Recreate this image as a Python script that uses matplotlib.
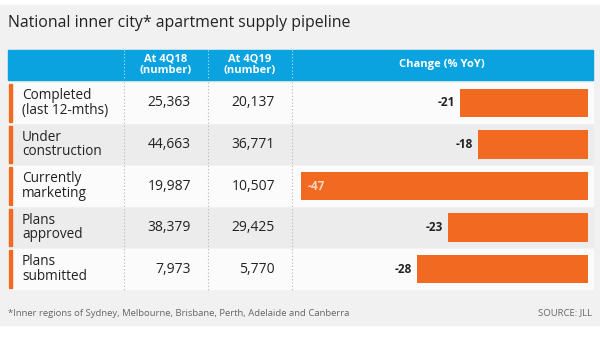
import matplotlib.pyplot as plt
from matplotlib.patches import Rectangle

plt.rcParams['font.family'] = ['Open Sans', 'DejaVu Sans']

title = "National inner city* apartment supply pipeline"
row_labels = ["Completed\n(last 12-mths)", "Under\nconstruction", "Currently\nmarketing",
              "Plans\napproved", "Plans\nsubmitted"]
col_headers = ["At 4Q18\n(number)", "At 4Q19\n(number)"]
at_4q18 = ["25,363", "44,663", "19,987", "38,379", "7,973"]
at_4q19 = ["20,137", "36,771", "10,507", "29,425", "5,770"]
change = [-21, -18, -47, -23, -28]
footnote = "*Inner regions of Sydney, Melbourne, Brisbane, Perth, Adelaide and Canberra"
source = "SOURCE: JLL"

blue = "#0aa3e0"
orange = "#f26a21"
W, H = 600, 338

fig = plt.figure(figsize=(6, 3.38), dpi=100)
bg = fig.add_axes([0, 0, 1, 1])
bg.set_xlim(0, W)
bg.set_ylim(H, 0)
bg.axis('off')

# panel
bg.add_patch(Rectangle((0, 5), W, 320, color="#f1f1f1", zorder=0))
bg.text(8, 23, title, fontsize=11.4, va='center', ha='left', color="#222222")

# header
bg.add_patch(Rectangle((8, 50), 585, 30, color=blue, zorder=1))
col_x = [166, 250]
for x, h in zip(col_x, col_headers):
    bg.text(x, 65, h, color='white', fontsize=8, fontweight='bold', ha='center', va='center',
            linespacing=1.1, zorder=3)
bg.text(442, 65, "Change (% YoY)", color='white', fontsize=8, fontweight='bold',
        ha='center', va='center', zorder=3)

# rows
top, row_h = 82, 41.6
for i, lab in enumerate(row_labels):
    y0 = top + i * row_h
    fc = "#fbfbfb" if i % 2 == 0 else "#ececec"
    bg.add_patch(Rectangle((8, y0 + 1), 585, row_h - 2, color=fc, zorder=1))
    bg.add_patch(Rectangle((9, y0 + 2), 3, row_h - 4, color=orange, zorder=2))
    yc = y0 + row_h / 2
    bg.text(22, yc, lab, fontsize=9.8, ha='left', va='center', linespacing=0.95,
            color="#222222", zorder=3)
    bg.text(191, yc, at_4q18[i], fontsize=10, ha='right', va='center', color="#222222", zorder=3)
    bg.text(275, yc, at_4q19[i], fontsize=10, ha='right', va='center', color="#222222", zorder=3)

# dotted dividers
bottom = top + len(row_labels) * row_h
for x in [124, 208, 292]:
    bg.plot([x, x], [50, 80], color='white', lw=0.8, ls=(0, (1, 2)), alpha=0.7, zorder=2)
    bg.plot([x, x], [82, bottom], color='#b5b5b5', lw=0.8, ls=(0, (1, 2)), zorder=2)

bg.text(8, 313, footnote, fontsize=6.8, color="#666666", ha='left', va='center')
bg.text(592, 313, source, fontsize=6.8, color="#666666", ha='right', va='center')

# bar axes over change column
left_px, right_px = 300, 588
ax = fig.add_axes([left_px / W, 1 - bottom / H, (right_px - left_px) / W, (bottom - top) / H])
ax.set_facecolor('none')
ypos = list(range(len(change)))
ax.barh(ypos, change, height=0.68, color=orange, zorder=3)
ax.set_xlim(-47.2, 0)
ax.set_ylim(len(change) - 0.5, -0.5)
ax.axis('off')
for y, v in zip(ypos, change):
    if v == min(change):
        ax.text(v + 1.0, y, f"{v}", color="#fbd5bd", fontsize=8.5, fontweight='bold',
                ha='left', va='center', zorder=4)
    else:
        ax.text(v - 0.8, y, f"{v}", color="#222222", fontsize=8.5, fontweight='bold',
                ha='right', va='center', zorder=4)

fig.savefig("out.png", dpi=100)
